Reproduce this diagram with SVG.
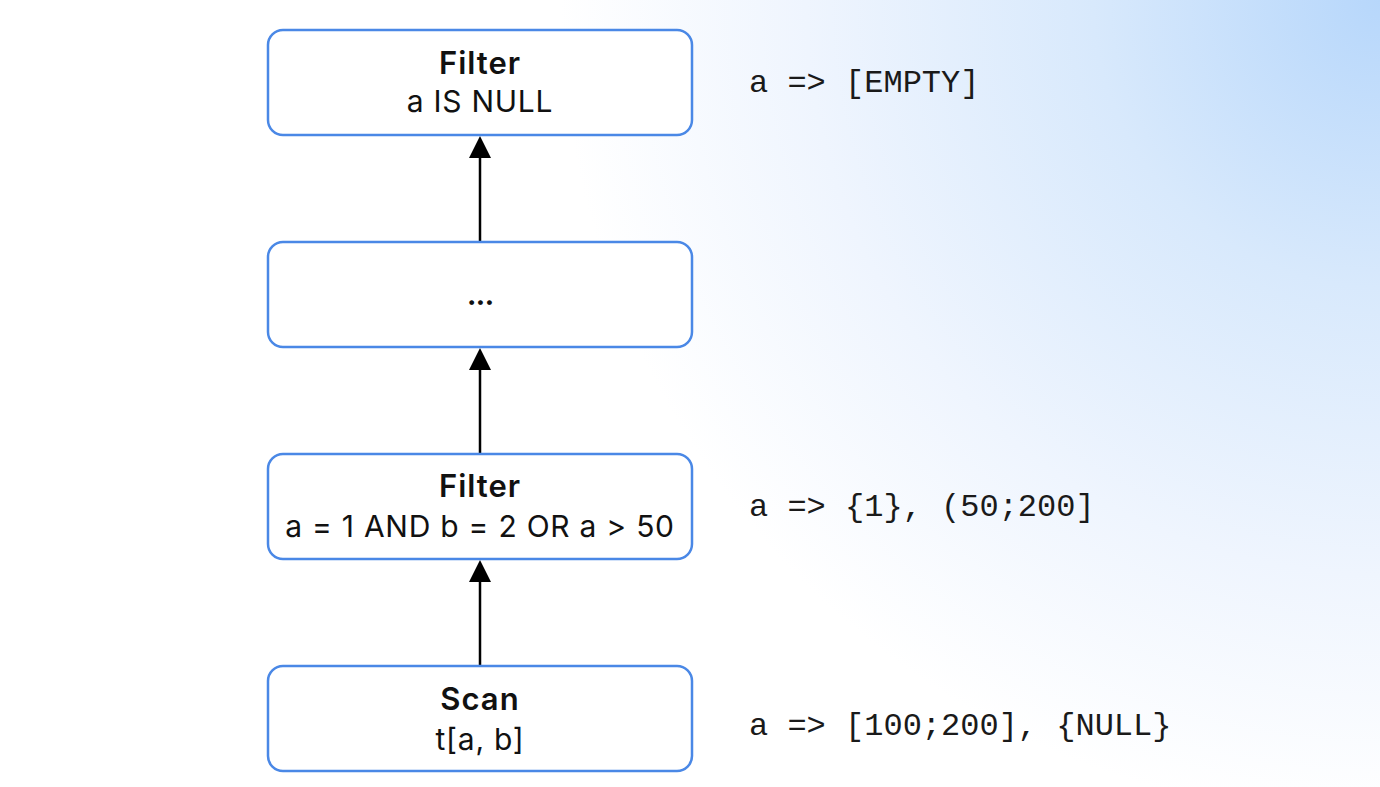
<svg xmlns="http://www.w3.org/2000/svg" width="1380" height="787" viewBox="0 0 1380 787">
<defs>
<radialGradient id="bg" cx="1380" cy="0" r="820" gradientUnits="userSpaceOnUse">
<stop offset="0" stop-color="#b7d7fb"/>
<stop offset="0.35" stop-color="#d8e9fc"/>
<stop offset="0.7" stop-color="#eff5fe"/>
<stop offset="1" stop-color="#ffffff"/>
</radialGradient>
</defs>
<style>
.box{fill:#ffffff;stroke:#4a88e6;stroke-width:2.5}
.t{font-family:Inter,"Noto Sans",sans-serif;font-size:31px;font-weight:600;letter-spacing:1px;fill:#111;text-anchor:middle}
.s{font-family:Inter,"Noto Sans",sans-serif;font-size:30px;font-weight:400;letter-spacing:0.75px;fill:#111;text-anchor:middle}
.m{font-family:"Liberation Mono",monospace;font-size:32px;fill:#1a1a1a}
.c{stroke:#000;stroke-width:2.5;fill:none}
.ah{fill:#000}
</style>
<rect width="1380" height="787" fill="url(#bg)"/>
<g id="connectors">
<line class="c" x1="480" y1="242" x2="480" y2="158"/>
<path class="ah" d="M469,158 L480,136 L491,158 Z"/>
<line class="c" x1="480" y1="454" x2="480" y2="370"/>
<path class="ah" d="M469,370 L480,348 L491,370 Z"/>
<line class="c" x1="480" y1="666" x2="480" y2="582"/>
<path class="ah" d="M469,582 L480,560 L491,582 Z"/>
</g>
<g id="filter-top">
<rect class="box" x="268" y="30" width="424" height="105" rx="15"/>
<text class="t" x="480" y="74">Filter</text>
<text class="s" x="480" y="112">a IS NULL</text>
</g>
<g id="ellipsis">
<rect class="box" x="268" y="242" width="424" height="105" rx="15"/>
<text class="t" x="480" y="305" style="letter-spacing:-1px">...</text>
</g>
<g id="filter-mid">
<rect class="box" x="268" y="454" width="424" height="105" rx="15"/>
<text class="t" x="480" y="497">Filter</text>
<text class="s" x="480" y="537">a = 1 AND b = 2 OR a &gt; 50</text>
</g>
<g id="scan">
<rect class="box" x="268" y="666" width="424" height="105" rx="15"/>
<text class="t" x="480" y="710">Scan</text>
<text class="s" x="480" y="750">t[a, b]</text>
</g>
<g id="annotations">
<text class="m" x="749" y="92">a =&gt; [EMPTY]</text>
<text class="m" x="749" y="516">a =&gt; {1}, (50;200]</text>
<text class="m" x="749" y="735">a =&gt; [100;200], {NULL}</text>
</g>
</svg>
